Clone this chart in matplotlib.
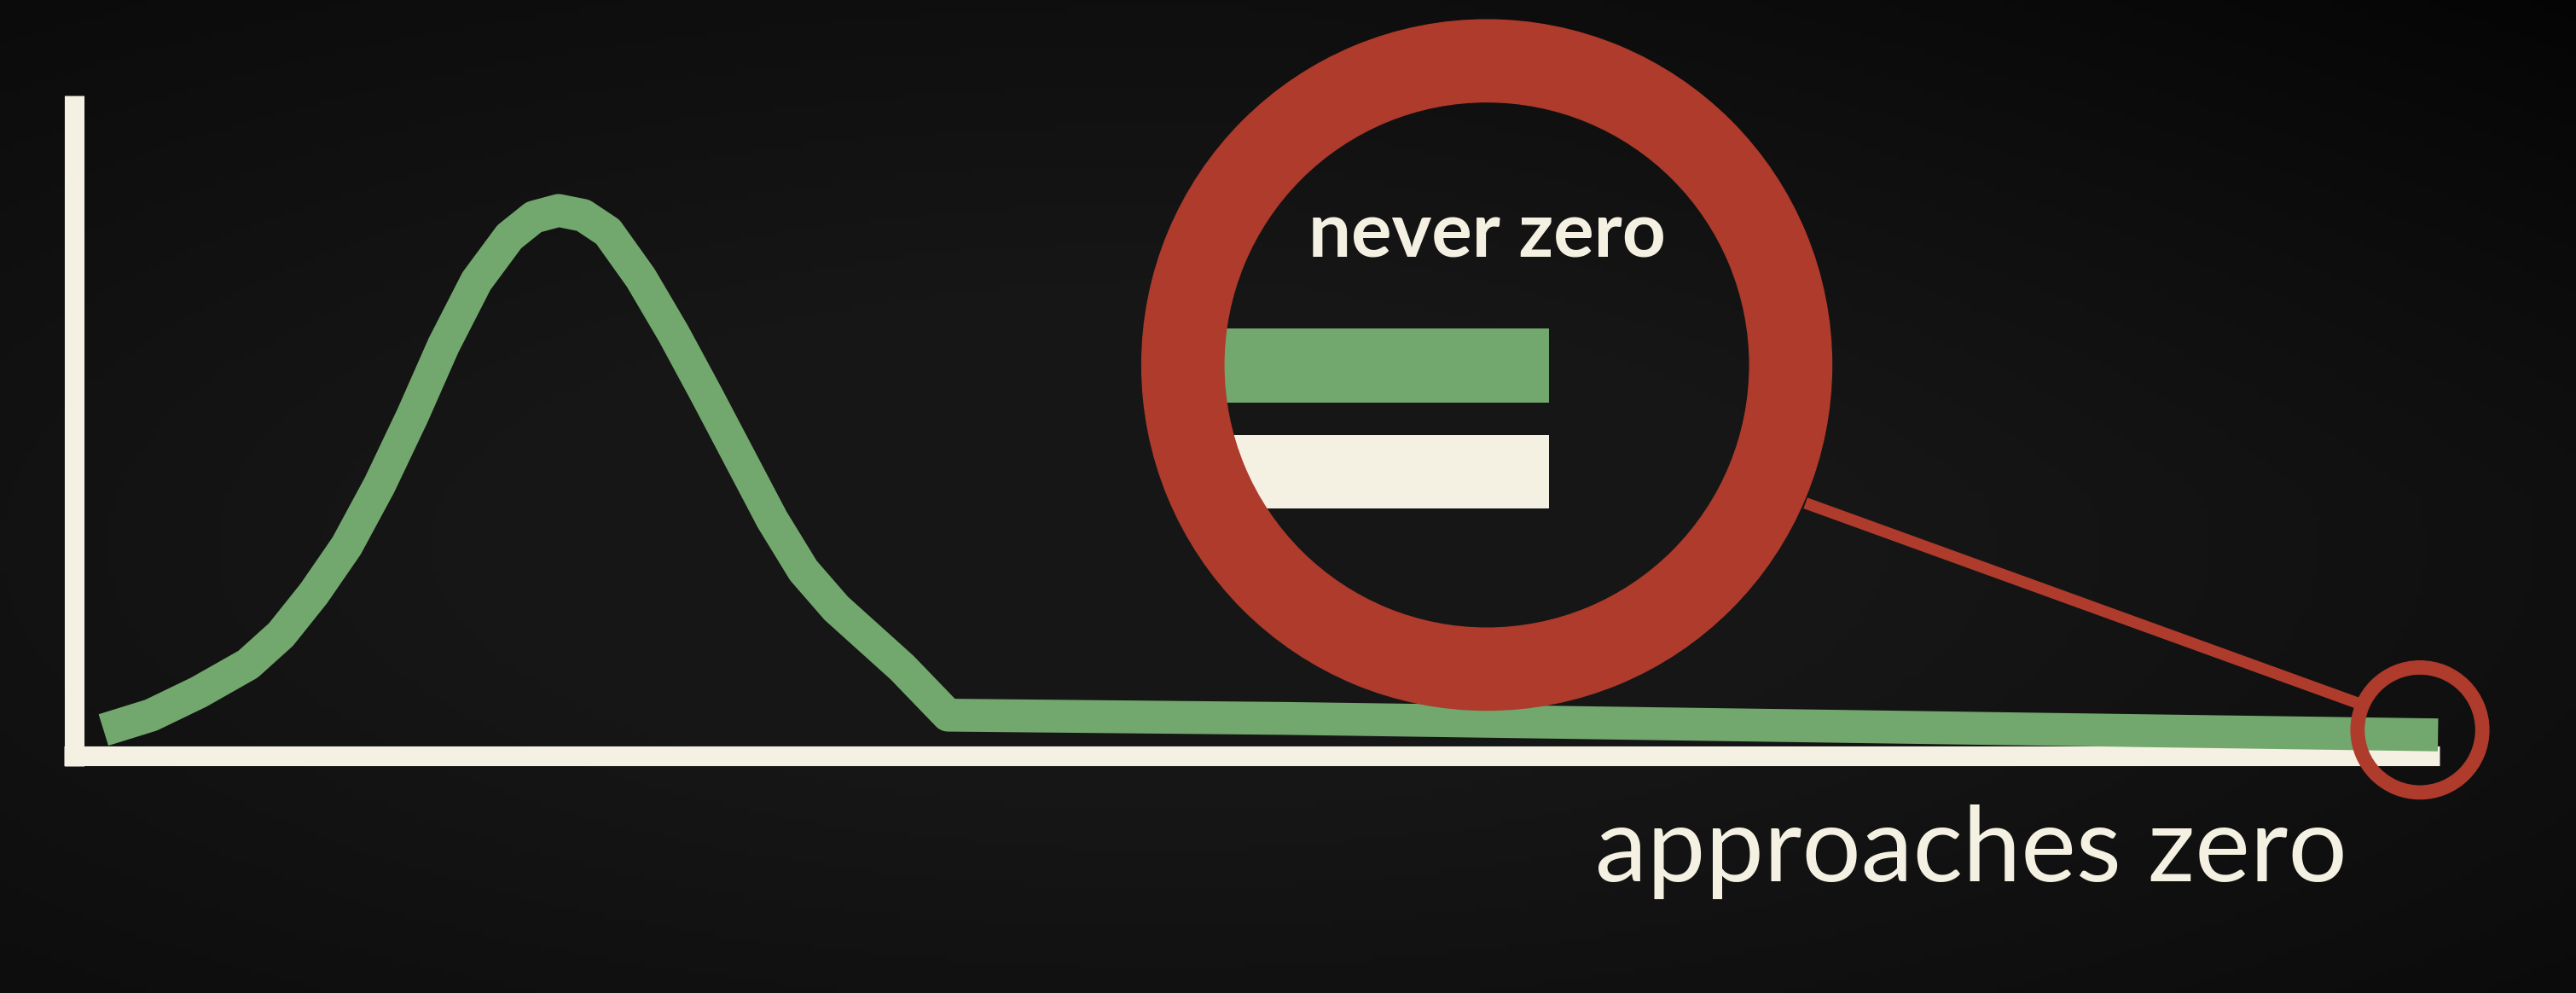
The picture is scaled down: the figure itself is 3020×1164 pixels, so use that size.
import numpy as np
import matplotlib
matplotlib.use("Agg")
import matplotlib.pyplot as plt
from matplotlib.patches import Annulus

# canvas units: 1568 x 604 (same aspect as the 3020 x 1164 output)
W, H = 1568, 604
PT = 3020 / W * 72 / 100     # points per canvas unit

GREEN = "#72a86d"
CREAM = "#f4f1e3"
RED = "#ae3b2c"

# curve (canvas units, y grows downward)
curve_x = [63, 92, 121, 151, 171, 191, 211, 231, 251, 270, 290, 310, 325,
           340, 355, 370, 390, 410, 430, 450, 470, 489, 509, 529, 549, 577,
           784, 1484]
curve_y = [444, 435, 421, 404, 386, 361, 332, 295, 253, 210, 171, 144, 132,
           128, 131, 141, 169, 203, 240, 278, 316, 347, 370, 388, 406, 435,
           437, 447]

# axes of the sketch
yaxis_x, yaxis_top = 45, 58
xaxis_y, xaxis_left, xaxis_right = 460, 39, 1485

# magnifier: big ring, small ring, bars inside
big_c, big_r, big_w = (905, 222), 210, 50
small_c, small_r, small_w = (1473, 444), 42, 8
bar_y = [222.5, 287]
bar_left, bar_right = 740, 943
bar_h = 45
bar_colors = [GREEN, CREAM]

label_top = "never zero"
label_bottom = "approaches zero"

plt.rcParams["font.family"] = ["Lato", "DejaVu Sans"]

fig = plt.figure(figsize=(30.2, 11.64), dpi=100)
ax = fig.add_axes([0, 0, 1, 1])
ax.set_xlim(0, W)
ax.set_ylim(H, 0)
ax.axis("off")

# dark vignette background, darkest towards the top right corner
gx, gy = np.meshgrid(np.linspace(-1, 1, 400), np.linspace(-1, 1, 160))
rr = np.sqrt(((gx + 0.1) * 0.85) ** 2 + ((gy - 0.1) * 0.9) ** 2)
shade = 0.088 - 0.055 * np.clip(rr - 0.45, 0, None) - 0.02 * np.clip(gx, 0, None) * np.clip(-gy, 0, None)
bg = np.dstack([shade, shade, shade])
ax.imshow(np.clip(bg, 0, 1), extent=[0, W, H, 0], aspect="auto", zorder=0)

# axes lines
ax.plot([yaxis_x, yaxis_x], [yaxis_top, xaxis_y + 6], color=CREAM,
        lw=12 * PT, solid_capstyle="butt", zorder=2)
ax.plot([xaxis_left, xaxis_right], [xaxis_y, xaxis_y], color=CREAM,
        lw=12 * PT, solid_capstyle="butt", zorder=2)

# curve
ax.plot(curve_x, curve_y, color=GREEN, lw=20 * PT, solid_capstyle="butt",
        solid_joinstyle="round", zorder=3)

# bars inside the magnifier
ax.barh(bar_y, [bar_right - bar_left] * 2, left=bar_left, height=bar_h,
        color=bar_colors, zorder=4)

# connector and rings
ax.plot([1099, 1436], [306, 428], color=RED, lw=7 * PT,
        solid_capstyle="butt", zorder=5)
ax.add_patch(Annulus(big_c, big_r, big_w, color=RED, zorder=6))
ax.add_patch(Annulus(small_c, small_r, small_w, color=RED, zorder=6))

ax.text(905, 143, label_top, color=CREAM, fontsize=64, fontweight="bold",
        ha="center", va="center", zorder=7)
ax.text(1200, 518, label_bottom, color=CREAM, fontsize=88,
        ha="center", va="center", zorder=7)

fig.savefig("out.png", dpi=100, facecolor="#111111")
